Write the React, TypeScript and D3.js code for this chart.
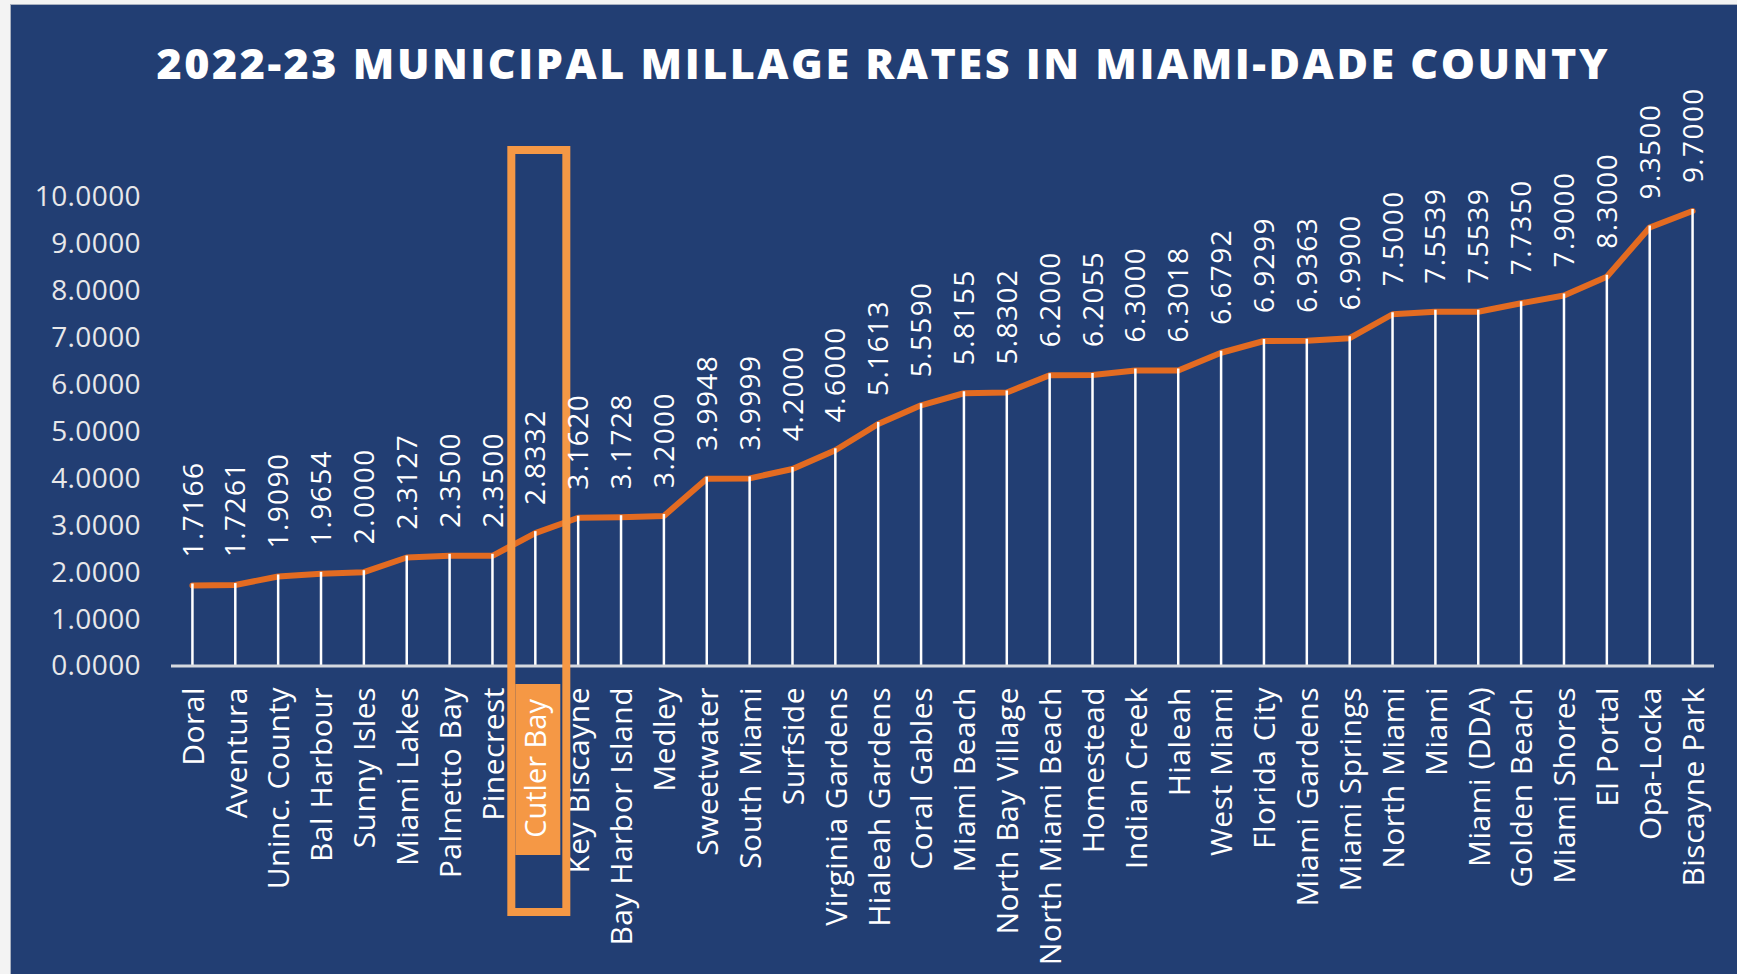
import * as d3 from 'd3'
import { useEffect, useRef, type ReactElement } from 'react'

const municipalities = [
  'Doral', 'Aventura', 'Uninc. County', 'Bal Harbour', 'Sunny Isles', 'Miami Lakes',
  'Palmetto Bay', 'Pinecrest', 'Cutler Bay', 'Key Biscayne', 'Bay Harbor Island', 'Medley',
  'Sweetwater', 'South Miami', 'Surfside', 'Virginia Gardens', 'Hialeah Gardens', 'Coral Gables',
  'Miami Beach', 'North Bay Village', 'North Miami Beach', 'Homestead', 'Indian Creek', 'Hialeah',
  'West Miami', 'Florida City', 'Miami Gardens', 'Miami Springs', 'North Miami', 'Miami',
  'Miami (DDA)', 'Golden Beach', 'Miami Shores', 'El Portal', 'Opa-Locka', 'Biscayne Park',
]

const millageRates = [
  1.7166, 1.7261, 1.909, 1.9654, 2.0, 2.3127,
  2.35, 2.35, 2.8332, 3.162, 3.1728, 3.2,
  3.9948, 3.9999, 4.2, 4.6, 5.1613, 5.559,
  5.8155, 5.8302, 6.2, 6.2055, 6.3, 6.3018,
  6.6792, 6.9299, 6.9363, 6.99, 7.5, 7.5539,
  7.5539, 7.735, 7.9, 8.3, 9.35, 9.7,
]

const yTickValues = [0, 1, 2, 3, 4, 5, 6, 7, 8, 9, 10]
const highlightedMunicipality = 'Cutler Bay'
const chartTitle = '2022-23 MUNICIPAL MILLAGE RATES IN MIAMI-DADE COUNTY'

type Row = { name: string; rate: number }

const widthPx = 1737
const heightPx = 974
const navy = '#223e73'
const lineOrange = '#e36b21'
const boxOrange = '#f59845'
const font = '"Open Sans", "DejaVu Sans", sans-serif'

export default function App(): ReactElement {
  const svgRef = useRef<SVGSVGElement>(null)

  useEffect(() => {
    const svgElement = svgRef.current
    if (!svgElement) {
      return
    }
    const svg = d3.select(svgElement)
    svg.selectAll('*').remove()

    const rows: Row[] = municipalities.map((name, i) => ({ name, rate: millageRates[i]! }))

    const xScale = d3.scalePoint<string>().domain(municipalities).range([171, 1714]).padding(0.5)
    const yScale = d3.scaleLinear().domain([0, 10]).range([666, 197])
    const baseY = yScale(0)

    // page + panel
    svg.append('rect').attr('width', widthPx).attr('height', heightPx).attr('fill', '#f3f3f3')
    svg
      .append('rect')
      .attr('x', 10.5)
      .attr('y', 4.5)
      .attr('width', widthPx)
      .attr('height', heightPx)
      .attr('fill', navy)
      .attr('stroke', '#a8b0bf')
      .attr('stroke-width', 1)

    svg
      .append('text')
      .attr('x', 882)
      .attr('y', 79)
      .attr('text-anchor', 'middle')
      .attr('fill', '#ffffff')
      .style('font-family', font)
      .style('font-weight', 800)
      .style('font-size', '43px')
      .attr('textLength', 1451)
      .attr('lengthAdjust', 'spacing')
      .text(chartTitle)

    // y axis labels
    const yAxis = d3
      .axisLeft(yScale)
      .tickValues(yTickValues)
      .tickFormat(d3.format('.4f'))
      .tickSize(0)
      .tickPadding(0)
    const yAxisG = svg.append('g').attr('transform', 'translate(141,0)').call(yAxis)
    yAxisG.select('.domain').remove()
    yAxisG
      .selectAll('text')
      .attr('fill', '#e8e8ea')
      .style('font-family', font)
      .style('font-size', '28px')
      .style('letter-spacing', '0.4px')

    // line
    const line = d3
      .line<Row>()
      .x((d) => xScale(d.name)!)
      .y((d) => yScale(d.rate))
    svg
      .append('path')
      .datum(rows)
      .attr('fill', 'none')
      .attr('stroke', lineOrange)
      .attr('stroke-width', 6)
      .attr('stroke-linejoin', 'round')
      .attr('stroke-linecap', 'round')
      .attr('d', line)

    // drop lines
    svg
      .append('g')
      .selectAll('line')
      .data(rows)
      .join('line')
      .attr('x1', (d) => xScale(d.name)!)
      .attr('x2', (d) => xScale(d.name)!)
      .attr('y1', baseY)
      .attr('y2', (d) => yScale(d.rate) - 2)
      .attr('stroke', '#ffffff')
      .attr('stroke-width', 2.5)

    // x axis
    const xAxis = d3.axisBottom(xScale).tickSize(0).tickPadding(0)
    const xAxisG = svg.append('g').attr('transform', `translate(0,${baseY})`).call(xAxis)
    xAxisG.select('.domain').remove()
    xAxisG
      .append('line')
      .attr('x1', 171)
      .attr('x2', 1714)
      .attr('stroke', '#d6d9e0')
      .attr('stroke-width', 3)

    // highlight box
    const hx = xScale(highlightedMunicipality)!
    svg
      .append('rect')
      .attr('x', hx - 24)
      .attr('y', 150)
      .attr('width', 55)
      .attr('height', 762)
      .attr('fill', 'none')
      .attr('stroke', boxOrange)
      .attr('stroke-width', 8)
    xAxisG
      .append('rect')
      .attr('x', hx - 20)
      .attr('y', 18)
      .attr('width', 45)
      .attr('height', 171)
      .attr('fill', boxOrange)

    xAxisG
      .selectAll<SVGTextElement, string>('.tick text')
      .attr('transform', 'rotate(-90)')
      .attr('x', (d) => (d === highlightedMunicipality ? -33 : -21))
      .attr('y', 0)
      .attr('dy', '0.36em')
      .attr('text-anchor', 'end')
      .attr('fill', '#ffffff')
      .style('font-family', font)
      .style('font-size', (d) => (d === highlightedMunicipality ? '29px' : '30px'))
      .style('letter-spacing', (d) => (d === highlightedMunicipality ? '0px' : '0.5px'))
    xAxisG.selectAll('.tick').raise()

    // value labels
    svg
      .append('g')
      .selectAll('text')
      .data(rows)
      .join('text')
      .attr('transform', (d) => `translate(${xScale(d.name)},${yScale(d.rate)}) rotate(-90)`)
      .attr('x', 28)
      .attr('dy', '0.36em')
      .attr('text-anchor', 'start')
      .attr('fill', '#ffffff')
      .style('font-family', font)
      .style('font-size', '28px')
      .style('letter-spacing', '1.4px')
      .text((d) => d.rate.toFixed(4))
  }, [])

  return (
    <>
      <style>{'body{margin:0}'}</style>
      <svg
        ref={svgRef}
        width={widthPx}
        height={heightPx}
        style={{ display: 'block' }}
        role="img"
        aria-label={chartTitle}
      />
    </>
  )
}
